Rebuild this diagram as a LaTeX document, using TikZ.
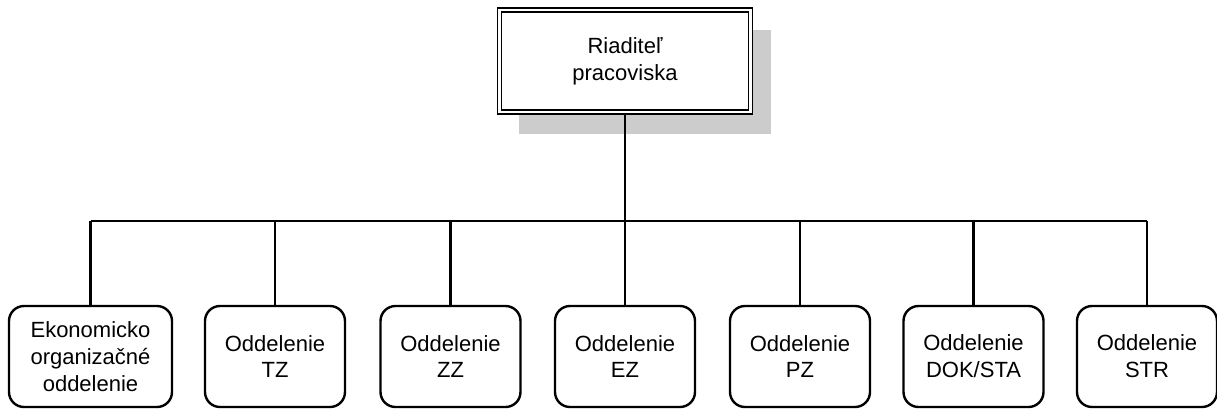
\documentclass[tikz,border=0pt]{standalone}
\usepackage{fontspec}
\setmainfont{Liberation Sans}
\usetikzlibrary{backgrounds}
\definecolor{shadowgray}{HTML}{CCCCCC}
\begin{document}
\begin{tikzpicture}[x=0.5pt, y=-0.5pt,
    font=\fontsize{11}{13.4}\selectfont,
    dept/.style={draw, line width=1.2pt, rounded corners=7.5pt, align=center,
        minimum width=70pt, minimum height=50.5pt, inner sep=2pt},
    boss/.style={draw, line width=0.8pt, double, double distance=1.2pt, fill=white,
        align=center, minimum width=125.5pt, minimum height=51pt},
    link/.style={line width=1.2pt}]
    \useasboundingbox (0,0) rectangle (1217,409);
    \node[boss] (head) at (625,61) {Riaditeľ\\pracoviska};
    \node[dept, minimum width=81.5pt] (eko) at (90.5,356.5) {Ekonomicko\\organizačné\\oddelenie};
    \node[dept] (tz) at (275,356.5) {Oddelenie\\TZ};
    \node[dept] (zz) at (450.5,356.5) {Oddelenie\\ZZ};
    \node[dept] (ez) at (625,356.5) {Oddelenie\\EZ};
    \node[dept] (pz) at (800,356.5) {Oddelenie\\PZ};
    \node[dept] (dok) at (973.5,356.5) {Oddelenie\\DOK/STA};
    \node[dept] (str) at (1147,356.5) {Oddelenie\\STR};
    \coordinate (bus) at (625,221);
    \begin{scope}[on background layer]
        \fill[shadowgray] ([shift={(20,21)}]head.north west) rectangle ([shift={(20,21)}]head.south east);
    \end{scope}
    \draw[link] (head) -- (head |- bus);
    \draw[link] (eko.north |- bus) -- (str.north |- bus);
    \foreach \d in {eko,tz,zz,ez,pz,dok,str}
        \draw[link] (\d.north) -- (\d.north |- bus);
\end{tikzpicture}
\end{document}
